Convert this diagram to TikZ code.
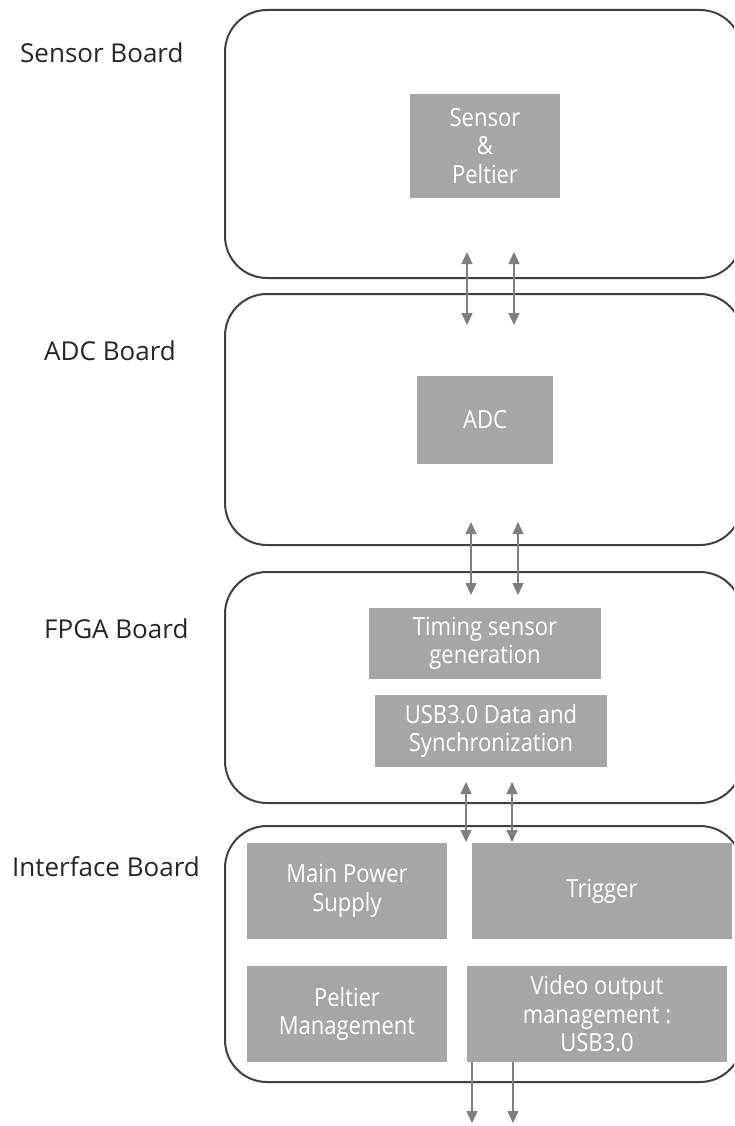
\documentclass[tikz,border=0pt]{standalone}
\usepackage{fontspec}
\setmainfont{Open Sans}
\newfontfamily\blockfont[FakeStretch=0.88]{Open Sans}
\usetikzlibrary{arrows.meta}
\definecolor{boardline}{HTML}{404040}
\definecolor{blockfill}{HTML}{A6A6A6}
\definecolor{linkgray}{HTML}{7F7F7F}
\definecolor{labelink}{HTML}{262626}
\begin{document}
\begin{tikzpicture}[x=1pt,y=-1pt,
  board/.style={draw=boardline,line width=2pt,rounded corners=42pt,inner sep=0pt},
  block/.style={fill=blockfill,text=white,inner sep=0pt,align=center,
                font=\blockfont\fontsize{25}{28.5}\selectfont},
  boardlabel/.style={anchor=base west,inner sep=0pt,text=labelink,
                font=\fontsize{26}{30}\selectfont},
  link/.style={draw=linkgray,line width=1.3pt,{Triangle[length=12pt,width=11pt]}-{Triangle[length=12pt,width=11pt]}},
  exitlink/.style={draw=linkgray,line width=1.3pt,-{Triangle[length=12pt,width=11pt]}}]
\useasboundingbox (0,0) rectangle (734,1126);
\clip (0,0) rectangle (734,1126);
\fill[white] (0,0) rectangle (734,1126);

% boards
\node[board,minimum width=517pt,minimum height=268pt] (sensorboard) at (483.5,144) {};
\node[board,minimum width=517pt,minimum height=251pt] (adcboard) at (483.5,419.5) {};
\node[board,minimum width=517pt,minimum height=231pt] (fpgaboard) at (483.5,687.5) {};
\node[board,minimum width=517pt,minimum height=256pt] (ifboard) at (483.5,954) {};

% board labels
\node[boardlabel] (lsensor) at (20,63) {Sensor Board};
\node[boardlabel] (ladc) at (44,360) {ADC Board};
\node[boardlabel] (lfpga) at (44,638) {FPGA Board};
\node[boardlabel] (lif) at (12,876) {Interface Board};

% functional blocks
\node[block,minimum width=150pt,minimum height=104pt] (sensor) at (485,146) {Sensor\\\&\\Peltier};
\node[block,minimum width=136pt,minimum height=88pt] (adc) at (485,420) {ADC};
\node[block,minimum width=232pt,minimum height=71pt] (timing) at (485,643.5) {Timing sensor\\generation};
\node[block,minimum width=232pt,minimum height=72pt] (usb) at (491,731) {USB3.0 Data and\\Synchronization};
\node[block,minimum width=200pt,minimum height=96pt] (power) at (347,891) {Main Power\\Supply};
\node[block,minimum width=260pt,minimum height=96pt] (trigger) at (602,891) {Trigger};
\node[block,minimum width=200pt,minimum height=96pt] (peltier) at (347,1014) {Peltier\\Management};
\node[block,minimum width=260pt,minimum height=96pt] (video) at (597,1014) {Video output\\management :\\USB3.0};

% links between boards
\coordinate (a1t) at (467,252); \coordinate (a1b) at (467,325);
\coordinate (a2t) at (514,252); \coordinate (a2b) at (514,325);
\coordinate (b1t) at (471,522); \coordinate (b1b) at (471,595);
\coordinate (b2t) at (518,522); \coordinate (b2b) at (518,595);
\coordinate (c1t) at (466,782); \coordinate (c1b) at (466,842);
\coordinate (c2t) at (512,782); \coordinate (c2b) at (512,842);
\coordinate (d1b) at (472,1123); \coordinate (d2b) at (513,1123);

\draw[link] (a1t) -- (a1b);
\draw[link] (a2t) -- (a2b);
\draw[link] (b1t) -- (b1b);
\draw[link] (b2t) -- (b2b);
\draw[link] (c1t) -- (c1b);
\draw[link] (c2t) -- (c2b);
\draw[exitlink] (video.south -| d1b) -- (d1b);
\draw[exitlink] (video.south -| d2b) -- (d2b);
\end{tikzpicture}
\end{document}
